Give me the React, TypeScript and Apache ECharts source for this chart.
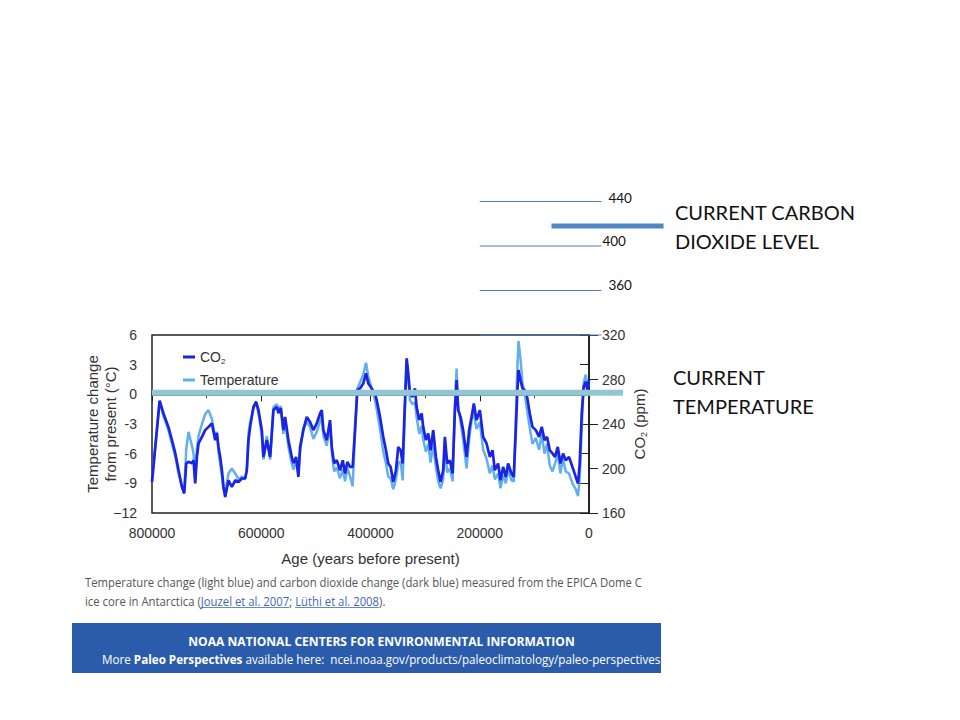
import React, { useEffect, useRef } from "react";
import * as echarts from "echarts";

// ---- Data ----
const ages = [
  800000, 786000, 779000, 770000, 763500, 757400, 751400, 745200, 741000, 737300,
  733100, 726900, 724000, 720900, 717800, 714800, 708600, 702600, 696500, 690300,
  684300, 681200, 678300, 675200, 672000, 669100, 666000, 660000, 653800, 647700,
  641700, 635500, 629500, 626400, 623400, 620300, 614300, 609300, 605100, 598900,
  596000, 589800, 583700, 577700, 571500, 568600, 564200, 559400, 556300, 550300,
  544100, 541100, 536200, 532000, 528900, 522900, 516700, 510600, 504600, 498400,
  492300, 489200, 486300, 480100, 474100, 470900, 466700, 461800, 455800, 450800,
  446600, 442400, 437500, 432600, 428400, 424100, 419200, 413200, 408200, 404000,
  397800, 391800, 388700, 382600, 376600, 371700, 367500, 363100, 358300, 353400,
  349200, 344800, 341100, 337500, 333800, 330900, 327800, 322900, 318700, 315600,
  310800, 306400, 303500, 298600, 294300, 290000, 285200, 280300, 276100, 271700,
  266900, 263800, 259600, 254700, 249700, 245500, 242400, 239500, 235100, 230400,
  224100, 219400, 215000, 210800, 205900, 199800, 193800, 187600, 181500, 176600,
  172400, 166400, 162000, 157200, 152300, 148100, 141900, 137700, 134000, 131600,
  129100, 125400, 121800, 117600, 113300, 108400, 103500, 97400, 91400, 86500,
  81500, 76800, 71800, 66900, 62200, 57200, 52300, 47500, 42600, 36600,
  30300, 24300, 20100, 17000, 13300, 9700, 6000, 2900, 0,
];

const co2Ppm = [
  188, 261, 249.5, 237.4, 225.5, 213.8, 198.4, 183.4, 177.5, 204.5,
  206, 204.7, 207.4, 186.7, 210.4, 222.5, 228.4, 234.5, 237.4, 240.5,
  225.5, 231.8, 219.4, 210.4, 198.4, 183.4, 174.4, 189.4, 183.4, 189.4,
  187.9, 191, 191, 198.4, 225.5, 237.4, 255.4, 260, 252.5, 234.5,
  210.4, 225.5, 210.4, 252.5, 255.4, 249.8, 254.3, 234.5, 246.4, 225.5,
  210.4, 204.7, 210.4, 192.4, 219.4, 234.5, 246.4, 241.9, 234.5, 240.5,
  249.5, 252.5, 234.5, 225.5, 243.5, 219.4, 204.7, 207.4, 198.4, 207.4,
  195.5, 205.9, 201.4, 201.4, 234.5, 270.5, 272, 276.5, 285.5, 276.5,
  272, 267.5, 261.5, 246.4, 228.4, 216.4, 204.5, 201.4, 187.9, 198.4,
  219.4, 216.4, 204.5, 252.5, 299, 285.5, 267.5, 264.4, 272, 255.4,
  243.5, 249.5, 237.4, 225.5, 231.5, 216.4, 234.5, 210.4, 198.4, 187.9,
  198.4, 228.4, 204.5, 207.4, 195.5, 252.5, 279.5, 252.5, 246.4, 234.5,
  210.4, 234.5, 246.4, 258.5, 243.5, 252.5, 228.4, 222.5, 210.4, 216.4,
  198.4, 204.5, 189.4, 201.4, 192.4, 204.5, 195.5, 192.4, 234.5, 264.4,
  288.5, 279.5, 272, 270.5, 264.4, 249.5, 237.4, 234.5, 228.4, 237.4,
  225.5, 228.4, 216.4, 213.5, 210.4, 219.4, 204.5, 213.5, 207.4, 210.4,
  201.4, 192.4, 186.5, 204.5, 249.5, 273.5, 278, 270.5, 279.5,
];

const temperatureC = [
  -8.8, -0.7, -2.2, -3.6, -5.0, -6.3, -8.0, -9.3, -9.8, -5.5,
  -3.8, -5.2, -6.0, -8.5, -5.5, -4.2, -3.0, -2.0, -1.6, -2.5,
  -4.4, -3.8, -5.8, -7.0, -8.3, -9.6, -9.9, -8.0, -7.5, -8.0,
  -8.6, -8.3, -8.6, -7.5, -4.0, -2.8, -1.4, -0.9, -1.9, -4.2,
  -6.6, -4.2, -6.6, -1.3, -1.0, -1.6, -1.2, -4.0, -2.6, -5.3,
  -7.0, -7.6, -6.8, -8.0, -5.8, -3.4, -2.8, -3.3, -4.5, -3.8,
  -2.7, -2.2, -4.2, -5.2, -3.0, -5.8, -7.8, -7.4, -8.5, -7.6,
  -8.8, -7.4, -8.3, -9.3, -4.0, 0.6, 1.2, 2.0, 3.2, 1.8,
  0.6, -0.6, -1.5, -3.5, -5.8, -7.0, -8.3, -8.5, -9.6, -8.6,
  -7.0, -6.8, -8.7, -2.5, 3.4, 1.6, -0.6, -1.0, -0.8, -2.3,
  -4.0, -3.2, -4.6, -5.8, -5.0, -6.9, -5.0, -7.4, -8.8, -9.5,
  -8.6, -5.5, -7.9, -7.5, -8.8, -1.2, 2.6, -1.2, -2.8, -4.6,
  -7.5, -4.6, -2.6, -1.8, -3.5, -2.8, -5.6, -6.5, -8.0, -7.2,
  -8.6, -8.0, -9.5, -8.2, -9.0, -7.6, -8.7, -8.8, -2.5, 2.0,
  5.4, 3.6, 1.2, 0.0, -1.6, -3.4, -5.0, -4.4, -5.6, -4.0,
  -6.0, -5.0, -7.2, -7.8, -7.0, -6.0, -8.0, -6.5, -7.8, -8.0,
  -9.0, -9.6, -10.3, -8.5, -3.5, 1.2, 2.0, 0.8, 1.0,
];

// Tick values
const tempTicks = [-12, -9, -6, -3, 0, 3, 6];
const co2Ticks = [160, 200, 240, 280, 320];
const ageTicks = [800000, 600000, 400000, 200000, 0];

// Slide annotations (values in the chart's own units)
const co2ReferenceLevels = [440, 400, 360, 320];
const co2RefLabels = ["440", "400", "360", ""];
const co2RefSpan = [200000, -22700]; // ages spanned by the reference lines
const currentCO2 = 418;
const currentCO2Span = [68700, -136500];
const currentTemperature = 0.15;
const currentTempSpan = [800000, -62200];

const captionLine1 =
  "Temperature change (light blue) and carbon dioxide change (dark blue) measured from the EPICA Dome C";
const captionPre = "ice core in Antarctica (";
const captionLink1 = "Jouzel et al. 2007";
const captionMid = "; ";
const captionLink2 = "Lüthi et al. 2008";
const captionPost = ").";
const bannerTitle = "NOAA NATIONAL CENTERS FOR ENVIRONMENTAL INFORMATION";
const bannerPre = "More ";
const bannerBold = "Paleo Perspectives";
const bannerRest = " available here:  ncei.noaa.gov/products/paleoclimatology/paleo-perspectives";

export default function App() {
  const ref = useRef<HTMLDivElement>(null);

  useEffect(() => {
    if (!ref.current) return;
    const chart = echarts.init(ref.current, undefined, { renderer: "svg" });
    const AX = "Liberation Sans, Arial, sans-serif";
    const DARK = "#1b24e0";
    const LIGHT = "#62aff0";

    chart.setOption({
      animation: false,
      grid: {
        left: 152,
        right: 371,
        top: 335,
        bottom: 207,
        show: true,
        borderColor: "#222",
        borderWidth: 1.5,
        backgroundColor: "transparent",
      },
      legend: {
        data: ["CO2", "Temperature"],
        orient: "vertical",
        left: 178,
        top: 345,
        itemGap: 8,
        itemWidth: 12,
        itemHeight: 3,
        icon: "rect",
        textStyle: {
          fontFamily: AX,
          fontSize: 14,
          color: "#333",
          rich: {
            a: { fontFamily: AX, fontSize: 14, color: "#333", lineHeight: 16 },
            s: { fontFamily: AX, fontSize: 8, color: "#333", lineHeight: 8, verticalAlign: "bottom" },
          },
        },
        formatter: (n: string) => (n === "CO2" ? "{a|CO}{s|2}" : n),
      },
      xAxis: {
        type: "value",
        inverse: true,
        min: 0,
        max: 800000,
        interval: 200000,
        name: "Age (years before present)",
        nameLocation: "middle",
        nameGap: 38,
        nameMoveOverlap: false,
        nameTextStyle: { fontFamily: AX, fontSize: 15, color: "#333" },
        axisLine: { lineStyle: { color: "#222", width: 1.5 } },
        axisTick: { show: true, length: 7, lineStyle: { color: "#222" } },
        minorTick: { show: true, splitNumber: 2, length: 4, lineStyle: { color: "#444" } },
        splitLine: { show: false },
        axisLabel: {
          fontFamily: AX,
          fontSize: 14,
          color: "#333",
          margin: 13,
          formatter: (v: number) => (ageTicks.includes(v) ? String(v) : ""),
        },
      },
      yAxis: [
        {
          type: "value",
          min: -12,
          max: 6,
          interval: 3,
          position: "left",
          name: "Temperature change\nfrom present (°C)",
          nameLocation: "middle",
          nameRotate: 90,
          nameGap: 33,
          nameMoveOverlap: false,
          nameTextStyle: { fontFamily: AX, fontSize: 15, color: "#333", lineHeight: 18 },
          axisLine: { show: true, lineStyle: { color: "#222", width: 1.5 } },
          axisTick: { show: true, length: 9, lineStyle: { color: "#222" } },
          splitLine: { show: false },
          axisLabel: {
            fontFamily: AX,
            fontSize: 14,
            color: "#333",
            margin: 15,
            formatter: (v: number) =>
              tempTicks.includes(v) ? (v === -12 ? "\u221212" : String(v)) : "",
          },
        },
        {
          type: "value",
          min: 160,
          max: 320,
          interval: 40,
          position: "right",
          name: "{a|CO}{s|2}{a| (ppm)}",
          nameLocation: "middle",
          nameRotate: 90,
          nameGap: 41,
          nameMoveOverlap: false,
          nameTextStyle: {
            fontFamily: AX,
            fontSize: 15,
            color: "#333",
            rich: {
              a: { fontFamily: AX, fontSize: 15, color: "#333", lineHeight: 18 },
              s: { fontFamily: AX, fontSize: 9, color: "#333", lineHeight: 9, verticalAlign: "bottom" },
            },
          },
          axisLine: { show: true, lineStyle: { color: "#222", width: 1.5 } },
          axisTick: { show: true, length: 9, lineStyle: { color: "#222" } },
          splitLine: { show: false },
          axisLabel: {
            fontFamily: AX,
            fontSize: 14,
            color: "#333",
            margin: 13,
            formatter: (v: number) => (co2Ticks.includes(v) ? String(v) : ""),
          },
        },
      ],
      series: [
        {
          type: "line",
          name: "Temperature",
          yAxisIndex: 0,
          showSymbol: false,
          z: 2,
          color: LIGHT,
          lineStyle: { color: LIGHT, width: 2.5 },
          data: ages.map((a, i) => [a, temperatureC[i]]),
        },
        {
          type: "line",
          name: "CO2",
          yAxisIndex: 1,
          showSymbol: false,
          z: 3,
          color: DARK,
          lineStyle: { color: DARK, width: 2.7 },
          data: ages.map((a, i) => [a, co2Ppm[i]]),
        },
      ],
    });

    // ---- Annotations placed through the chart's own axis scales ----
    const px = (age: number) => chart.convertToPixel({ xAxisIndex: 0 }, age) as number;
    const pyT = (t: number) => chart.convertToPixel({ yAxisIndex: 0 }, t) as number;
    const pyC = (c: number) => chart.convertToPixel({ yAxisIndex: 1 }, c) as number;

    const ctx = document.createElement("canvas").getContext("2d")!;
    const measure = (t: string, f: string) => {
      ctx.font = f;
      return ctx.measureText(t).width;
    };

    const labelOffsets: Record<string, number[]> = {
      "440": [7, -4],
      "400": [1, -5],
      "360": [7, -6],
    };

    const g: any[] = [];
    // current temperature band
    g.push({
      type: "line",
      z: 50,
      shape: {
        x1: px(currentTempSpan[0]),
        y1: pyT(currentTemperature),
        x2: px(currentTempSpan[1]),
        y2: pyT(currentTemperature),
      },
      style: { stroke: "#92c6d3", lineWidth: 6 },
    });
    // CO2 reference levels
    co2ReferenceLevels.forEach((lvl, i) => {
      const y = pyC(lvl);
      const x2 = px(co2RefSpan[1]);
      g.push({
        type: "line",
        z: 51,
        shape: { x1: px(co2RefSpan[0]), y1: y, x2, y2: y },
        style: { stroke: "#4a7ebb", lineWidth: 1 },
      });
      if (co2RefLabels[i]) {
        const off = labelOffsets[co2RefLabels[i]];
        g.push({
          type: "text",
          z: 51,
          x: x2 + off[0],
          y: y + off[1],
          style: {
            text: co2RefLabels[i],
            fill: "#111",
            font: "13.5px Lato, sans-serif",
            verticalAlign: "middle",
          },
        });
      }
    });
    // current CO2
    g.push({
      type: "line",
      z: 52,
      shape: {
        x1: px(currentCO2Span[0]),
        y1: pyC(currentCO2),
        x2: px(currentCO2Span[1]),
        y2: pyC(currentCO2),
      },
      style: { stroke: "#4f86c6", lineWidth: 5 },
    });

    // slide texts
    g.push({
      type: "text",
      x: 675,
      y: 226.5,
      style: {
        text: "CURRENT CARBON\nDIOXIDE LEVEL",
        fill: "#111",
        font: "20px Lato, sans-serif",
        lineHeight: 29,
        verticalAlign: "middle",
      },
    });
    g.push({
      type: "text",
      x: 673,
      y: 391.5,
      style: {
        text: "CURRENT\nTEMPERATURE",
        fill: "#111",
        font: "20px Lato, sans-serif",
        lineHeight: 29,
        verticalAlign: "middle",
      },
    });

    // caption
    const CF = "12px 'Open Sans', sans-serif";
    const cScale = 557 / measure(captionLine1, CF);
    g.push({
      type: "text",
      x: 85,
      y: 582,
      scaleX: cScale,
      style: { text: captionLine1, fill: "#555", font: CF, verticalAlign: "middle" },
    });
    g.push({
      type: "text",
      x: 85,
      y: 601,
      scaleX: cScale,
      style: {
        text: `${captionPre}{l|${captionLink1}}${captionMid}{l|${captionLink2}}${captionPost}`,
        fill: "#555",
        font: CF,
        verticalAlign: "middle",
        rich: { l: { fill: "#3f69b4", font: CF } },
      },
    });
    const u1s = 85 + cScale * measure(captionPre, CF);
    const u1e = u1s + cScale * measure(captionLink1, CF);
    const u2s = u1e + cScale * measure(captionMid, CF);
    const u2e = u2s + cScale * measure(captionLink2, CF);
    [
      [u1s, u1e],
      [u2s, u2e],
    ].forEach(([a, b]) =>
      g.push({
        type: "line",
        shape: { x1: a, y1: 607.5, x2: b, y2: 607.5 },
        style: { stroke: "#3f69b4", lineWidth: 0.8 },
      })
    );

    // banner
    g.push({
      type: "rect",
      shape: { x: 72, y: 623, width: 589, height: 50 },
      style: { fill: "#2b5cab" },
    });
    const BF = "bold 12.5px 'Open Sans', sans-serif";
    const NF = "12.5px 'Open Sans', sans-serif";
    g.push({
      type: "text",
      x: 381.5,
      y: 641,
      scaleX: 387 / measure(bannerTitle, BF),
      style: { text: bannerTitle, fill: "#fff", font: BF, align: "center", verticalAlign: "middle" },
    });
    const bw = measure(bannerPre, NF) + measure(bannerBold, BF) + measure(bannerRest, NF);
    g.push({
      type: "text",
      x: 102,
      y: 659,
      scaleX: 559 / bw,
      style: {
        text: `${bannerPre}{b|${bannerBold}}${bannerRest}`,
        fill: "#fff",
        font: NF,
        verticalAlign: "middle",
        rich: { b: { fill: "#fff", font: BF } },
      },
    });

    chart.setOption({ graphic: g });
    return () => chart.dispose();
  }, []);

  return (
    <div
      ref={ref}
      style={{ position: "absolute", left: 0, top: 0, width: 960, height: 720, background: "#fff" }}
    />
  );
}
